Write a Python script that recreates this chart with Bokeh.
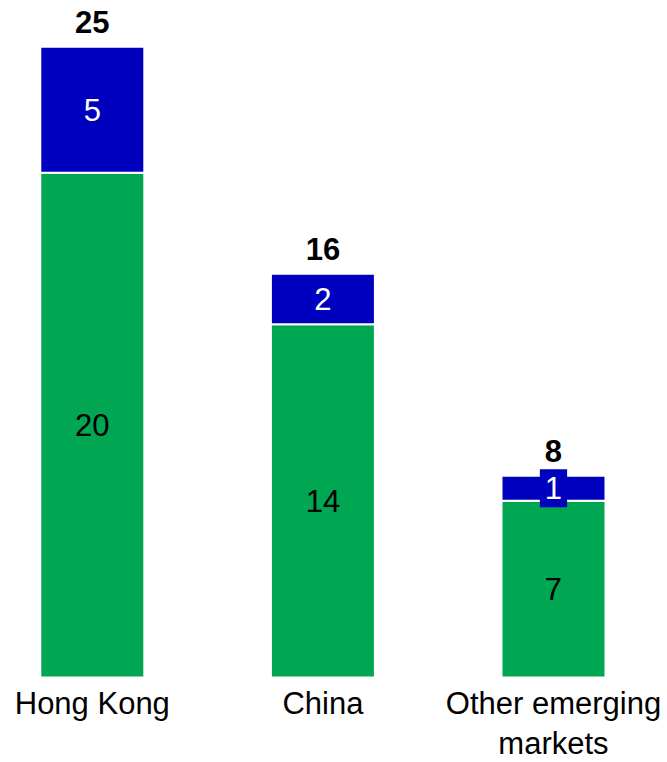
from bokeh.plotting import figure
from bokeh.models import Range1d, ColumnDataSource
from bokeh.core.properties import value
from bokeh.embed import file_html
from bokeh.resources import INLINE

categories = ["Hong Kong", "China", "Other emerging\nmarkets"]
green_vals = [20, 14, 7]
blue_vals = [5, 2, 1]
totals = [25, 16, 8]

GREEN = "#00A651"
BLUE = "#0000BF"
FONT = value("Liberation Sans")

xs = list(range(len(categories)))
src = ColumnDataSource(dict(
    x=xs,
    cat=categories,
    gtop=green_vals,
    btop=[g + b for g, b in zip(green_vals, blue_vals)],
    gmid=[g / 2 for g in green_vals],
    bmid=[g + b / 2 for g, b in zip(green_vals, blue_vals)],
    glab=[str(v) for v in green_vals],
    blab=[str(v) for v in blue_vals],
    tot=totals,
    totlab=[str(v) for v in totals],
    zero=[0] * len(xs),
))

p = figure(width=667, height=762, output_backend="svg", toolbar_location=None,
           x_range=Range1d(-0.3981, 2.4944), y_range=Range1d(-3.369, 26.83),
           min_border=0)
p.axis.visible = False
p.grid.visible = False
p.outline_line_color = None
p.background_fill_color = "white"

W = 0.451
p.vbar(x="x", width=W, bottom=0, top="gtop", source=src, fill_color=GREEN,
       line_color="white", line_width=2)
p.vbar(x="x", width=W, bottom="gtop", top="btop", source=src, fill_color=BLUE,
       line_color="white", line_width=2)

p.text(x="x", y="gmid", text="glab", source=src, text_font=FONT,
       text_font_size="31px", text_color="black", text_align="center",
       text_baseline="middle")
p.text(x="x", y="bmid", text="blab", source=src, text_font=FONT,
       text_font_size="31px", text_color="white", text_align="center",
       text_baseline="middle", background_fill_color=BLUE,
       padding=dict(left=5, right=5, top=8, bottom=8))
p.text(x="x", y="tot", text="totlab", source=src, text_font=FONT,
       text_font_size="31px", text_font_style="bold", text_color="black",
       text_align="center", text_baseline="middle", y_offset=-25)
p.text(x="x", y="zero", text="cat", source=src, text_font=FONT,
       text_font_size="31px", text_color="black", text_align="center",
       text_baseline="top", y_offset=9, text_line_height=1.13)

open("out.html", "w").write(file_html(p, INLINE))
